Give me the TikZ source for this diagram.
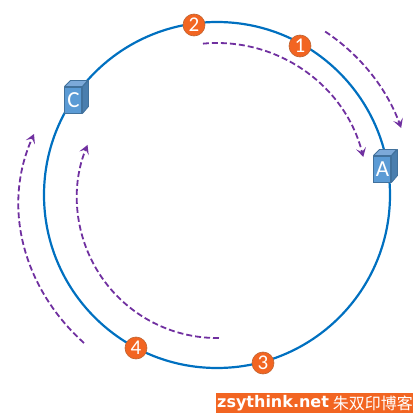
\documentclass[tikz,border=0pt]{standalone}
\usepackage{fontspec}
\setmainfont{Carlito}
\newfontfamily\markfont{DejaVu Sans}
\newfontfamily\cjkfont{Noto Sans CJK SC}
\usetikzlibrary{calc}
\usetikzlibrary{arrows.meta}
\definecolor{RingBlue}{RGB}{ 0, 112, 192}
\definecolor{FlowViolet}{RGB}{ 112, 48, 160}
\definecolor{DotOrange}{RGB}{ 242, 101, 34}
\definecolor{DotEdge}{RGB}{ 190, 100, 50}
\definecolor{BoxFront}{RGB}{ 91, 155, 213}
\definecolor{BoxTop}{RGB}{ 124, 169, 217}
\definecolor{BoxSide}{RGB}{ 74, 126, 174}
\definecolor{BoxEdge}{RGB}{ 65, 113, 156}

\begin{document}
\begin{tikzpicture}[x=1pt, y=1pt]
      \tikzstyle{ring}=[RingBlue, line width=2.2pt];
      \tikzstyle{flow}=[FlowViolet, line width=1.8pt, dash pattern=on 6pt off 3pt, -{Stealth[length=9pt, width=10pt, inset=4pt]}];
      \tikzstyle{dot}=[draw=DotEdge, fill=DotOrange, circle, line width=.6pt, minimum size=22pt, inner sep=0pt, text=white, font=\fontsize{21}{21}\selectfont];
      \tikzstyle{box}=[draw=BoxEdge, fill=BoxFront, line width=1pt, minimum width=17pt, minimum height=26pt, inner sep=0pt, text=white, font=\fontsize{23}{23}\selectfont];
      \tikzstyle{boxface}=[draw=BoxEdge, line width=.8pt, line join=round];

      \useasboundingbox (-217, -218) rectangle (196, 195);

      % ring
      \draw[ring] (0, 0) circle (173);

      % arcs around the ring
      \draw[flow] (56.5:196) arc[start angle=56.5, end angle=20, radius=196];
      \draw[flow] (95.3:152) arc[start angle=95.3, end angle=14.2, radius=151];
      \draw[flow] (-133, -148) .. controls (-193, -94) and (-216, -13) .. (-183, 61);
      \draw[flow] (2, -143) arc[start angle=270.8, end angle=157.7, radius=140];

      % numbered points
      \node[dot] (one) at (83, 149) {1};
      \node[dot] (two) at (-23, 170) {2};
      \node[dot] (three) at (46, -168) {3};
      \node[dot] (four) at (-81, -153) {4};

      % servers
      \node[box] (a) at (165.5, 26) {A};
      \fill[BoxTop, boxface] (a.north west) -- ++(6, 6) -- ++(17, 0) -- (a.north east) -- cycle;
      \fill[BoxSide, boxface] (a.north east) -- ++(6, 6) -- ++(0, -26) -- (a.south east) -- cycle;

      \node[box] (c) at (-143.5, 95) {C};
      \fill[BoxTop, boxface] (c.north west) -- ++(6, 6) -- ++(17, 0) -- (c.north east) -- cycle;
      \fill[BoxSide, boxface] (c.north east) -- ++(6, 6) -- ++(0, -26) -- (c.south east) -- cycle;

      % site mark
      \fill[DotOrange] (-1, -218) rectangle (196, -198);
      \node[text=white, anchor=west, inner sep=0pt, font=\markfont\bfseries\fontsize{16}{16}\selectfont] (site) at (0, -208) {zsythink.net};
      \node[text=white, anchor=east, inner sep=0pt, font=\cjkfont\fontsize{16}{16}\selectfont] (name) at (196, -208) {朱双印博客};
    \end{tikzpicture}
\end{document}
